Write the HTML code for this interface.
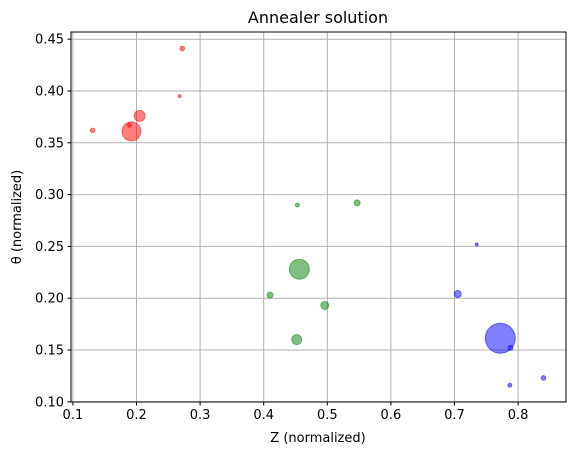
<!DOCTYPE html>
<html><head><meta charset="utf-8"><style>
body{margin:0;background:#fff}
svg{display:block;font-family:"DejaVu Sans","Liberation Sans",sans-serif}
</style></head><body>
<svg id="chart" width="576" height="455" viewBox="0 0 576 455">
<rect width="576" height="455" fill="#fff"/>
<g id="grid"></g>
<g id="pts"></g>
<rect x="71" y="32" width="495" height="370" fill="none" stroke="#000" stroke-width="1"/>
<g id="ticks" font-size="13" fill="#000"></g>
<text x="318" y="23" text-anchor="middle" font-size="16">Annealer solution</text>
<text x="318" y="442" text-anchor="middle" font-size="13">Z (normalized)</text>
<text x="21" y="217" text-anchor="middle" font-size="13" transform="rotate(-90 21 217)">θ (normalized)</text>
</svg>
<script>
const xTicks=[0.1,0.2,0.3,0.4,0.5,0.6,0.7,0.8];
const yTicks=[0.10,0.15,0.20,0.25,0.30,0.35,0.40,0.45];
const redX=[0.272,0.268,0.205,0.192,0.189,0.131];
const redY=[0.441,0.395,0.376,0.361,0.367,0.362];
const redR=[2.3,1.5,5.5,9.5,2,2.3];
const greenX=[0.456,0.452,0.496,0.410,0.547,0.453];
const greenY=[0.228,0.160,0.193,0.203,0.292,0.290];
const greenR=[10,5,4,3,3,2];
const blueX=[0.735,0.705,0.772,0.788,0.787,0.840];
const blueY=[0.252,0.204,0.1613,0.152,0.116,0.123];
const blueR=[1.5,3.5,15,2.5,2,2.3];
const X=v=>136.5+(v-0.2)*636;
const Y=v=>91+(0.40-v)*1036;
const NS="http://www.w3.org/2000/svg";
const grid=document.getElementById('grid'),ticks=document.getElementById('ticks'),pts=document.getElementById('pts');
function mk(t,a,p){const e=document.createElementNS(NS,t);for(const k in a)e.setAttribute(k,a[k]);p.appendChild(e);return e;}
xTicks.forEach(v=>{const x=X(v);
 const g=mk('line',{x1:x,x2:x,y1:32,y2:402,stroke:'#b0b0b0','stroke-width':1},grid);
 
 
 const t=mk('line',{x1:x,x2:x,y1:402,y2:405.5,stroke:'#000'},ticks);
 
 
 const l=mk('text',{x:x,y:419,'text-anchor':'middle'},ticks);l.textContent=v.toFixed(1);
 
 
});
yTicks.forEach(v=>{const y=Y(v);
 const g=mk('line',{x1:71,x2:566,y1:y,y2:y,stroke:'#b0b0b0','stroke-width':1},grid);
 
 
 const t=mk('line',{x1:67.5,x2:71,y1:y,y2:y,stroke:'#000'},ticks);
 
 
 const l=mk('text',{x:64,y:y+4.5,'text-anchor':'end'},ticks);l.textContent=v.toFixed(2);
 
 
});
function series(xs,ys,rs,col,name){xs.forEach((v,i)=>{
 const c=mk('circle',{cx:X(v),cy:Y(ys[i]),r:rs[i],fill:col,'fill-opacity':0.5,stroke:col,'stroke-opacity':0.5,'stroke-width':1},pts);
 
 
});}
series(redX,redY,redR,'#ff0000','red-point');
series(greenX,greenY,greenR,'#008000','green-point');
series(blueX,blueY,blueR,'#0000ff','blue-point');
</script>
</body></html>
